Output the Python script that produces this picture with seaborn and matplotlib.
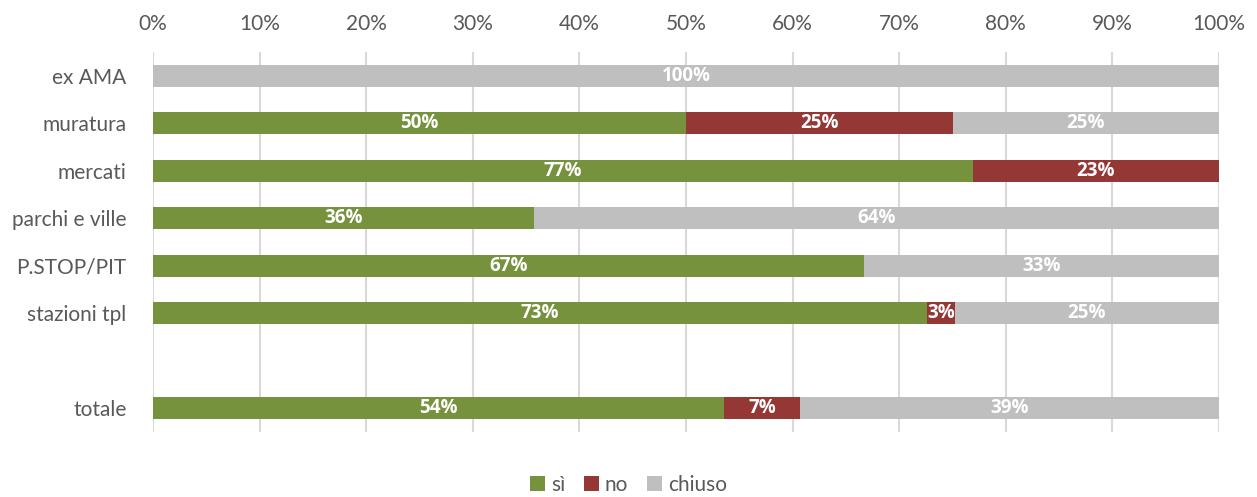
import matplotlib
matplotlib.use("Agg")
import matplotlib.pyplot as plt
import seaborn as sns
import pandas as pd
import numpy as np
from matplotlib.patches import Patch

categories = ["ex AMA", "muratura", "mercati", "parchi e ville", "P.STOP/PIT", "stazioni tpl", " ", "totale"]
si = [0, 50, 76.9, 35.7, 66.7, 72.6, np.nan, 53.6]
no = [0, 25, 23.1, 0, 0, 2.6, np.nan, 7.1]
chiuso = [100, 25, 0, 64.3, 33.3, 24.8, np.nan, 39.3]
series_names = ["sì", "no", "chiuso"]
colors = ["#76923C", "#953735", "#BFBFBF"]
xticks = [0, 10, 20, 30, 40, 50, 60, 70, 80, 90, 100]

sns.set_theme(style="white")
plt.rcParams["font.family"] = ["Lato", "DejaVu Sans"]

df = pd.DataFrame({"cat": categories, "sì": si, "no": no, "chiuso": chiuso})
df["c_si"] = df["sì"]
df["c_no"] = df["sì"] + df["no"]
df["c_ch"] = df["sì"] + df["no"] + df["chiuso"]

fig = plt.figure(figsize=(12.57, 4.97), dpi=100)
ax = fig.add_axes([153/1257, 1-432/497, (1219-153)/1257, 380/497])

ax.set_axisbelow(True)
for col, c in zip(["c_ch", "c_no", "c_si"], colors[::-1]):
    sns.barplot(data=df, y="cat", x=col, order=categories, color=c, orient="h",
                width=0.47, ax=ax, saturation=1, linewidth=0)

# data labels
for i, row in df.iterrows():
    if pd.isna(row["sì"]):
        continue
    start = 0
    for name in series_names:
        v = row[name]
        if v > 0:
            ax.text(start + v/2, i, f"{v:.0f}%", ha="center", va="center",
                    color="white", fontsize=13.5, fontweight="bold",
                    family=["Open Sans", "DejaVu Sans"])
        start += v

ax.set_xlim(0, 100)
ax.set_ylim(len(categories) - 0.5, -0.5)
ax.xaxis.tick_top()
ax.set_xticks(xticks)
ax.set_xticklabels([f"{t}%" for t in xticks])
ax.tick_params(axis="both", length=0, labelsize=15, colors="#595959")
ax.tick_params(axis="x", pad=13)
ax.tick_params(axis="y", pad=19)
ax.xaxis.grid(True, color="#D9D9D9", linewidth=1.5)
ax.yaxis.grid(False)
for s in ax.spines.values():
    s.set_visible(False)
ax.set_xlabel("")
ax.set_ylabel("")

handles = [Patch(facecolor=c, edgecolor="none", label=n) for n, c in zip(series_names, colors)]
fig.legend(handles=handles, loc="center", bbox_to_anchor=(0.5, 1-485/497), ncol=3,
           frameon=False, fontsize=15, handlelength=0.7, handleheight=0.7,
           handletextpad=0.3, columnspacing=0.9, labelcolor="#595959")

fig.savefig("out.png", dpi=100)
